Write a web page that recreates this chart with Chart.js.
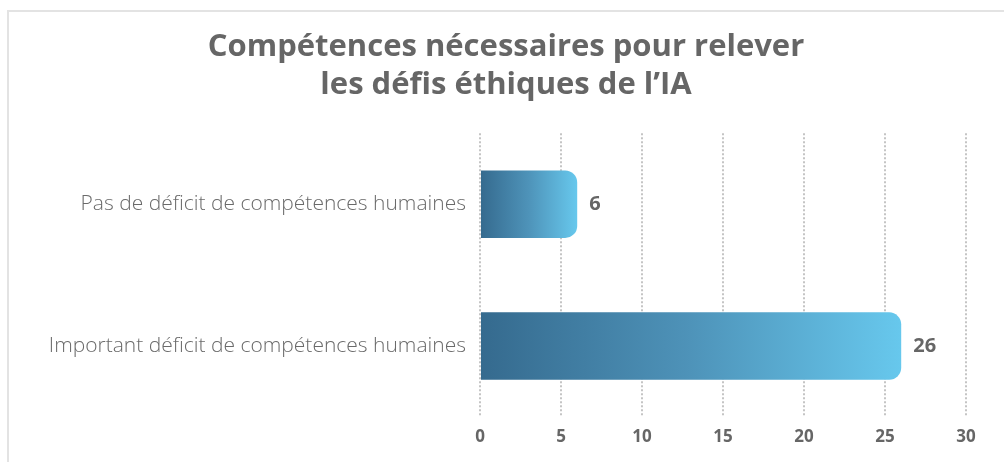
<!DOCTYPE html>
<html>
<head>
<meta charset="utf-8">
<script src="https://cdn.jsdelivr.net/npm/chart.js@4/dist/chart.umd.min.js"></script>
<style>
  html, body { margin: 0; padding: 0; background: #fff; }
  #wrap { position: relative; width: 1004px; height: 462px; }
  #frame { position: absolute; left: 7px; top: 10px; right: -4px; bottom: -4px;
           border-top: 2px solid #e3e3e3; border-left: 2px solid #e3e3e3; pointer-events: none; }
</style>
</head>
<body>
<div id="wrap">
  <canvas id="chart" width="1004" height="462"></canvas>
  <div id="frame"></div>
</div>
<script>
// Data
const categories = ['Pas de déficit de compétences humaines', 'Important déficit de compétences humaines'];
const values = [6, 26];
const xTicks = [0, 5, 10, 15, 20, 25, 30];
const titleLines = ['Compétences nécessaires pour relever', 'les défis éthiques de l\u2019IA'];

const textGrey = '#666666';

// bar gradient goes from the bar's base to its end
const barGradient = (ctx) => {
    const chart = ctx.chart;
    const xs = chart.scales.x;
    if (!xs || !chart.chartArea || ctx.type !== 'data') return '#4d90b5';
    const x0 = xs.getPixelForValue(0);
    const x1 = xs.getPixelForValue(ctx.raw);
    if (!isFinite(x0) || !isFinite(x1) || x1 === x0) return '#4d90b5';
    const g = chart.ctx.createLinearGradient(x0, 0, x1, 0);
    g.addColorStop(0, '#356a8e');
    g.addColorStop(0.5, '#4e93b9');
    g.addColorStop(1, '#67c8ed');
    return g;
};

// value labels at the end of each bar
const valueLabels = {
    id: 'valueLabels',
    afterDatasetsDraw(chart) {
        const { ctx } = chart;
        const meta = chart.getDatasetMeta(0);
        ctx.save();
        ctx.font = 'bold 20px "Open Sans"';
        ctx.fillStyle = textGrey;
        ctx.textBaseline = 'middle';
        ctx.textAlign = 'left';
        meta.data.forEach((bar, i) => {
            ctx.fillText(String(values[i]), bar.x + 12, bar.y);
        });
        ctx.restore();
    }
};

new Chart(document.getElementById('chart'), {
    type: 'bar',
    data: {
        labels: categories,
        datasets: [{
            data: values,
            backgroundColor: barGradient,
            borderRadius: 12,
            borderSkipped: 'start',
            barPercentage: 0.95,
            categoryPercentage: 0.5
        }]
    },
    options: {
        indexAxis: 'y',
        responsive: false,
        animation: false,
        layout: { padding: { top: 10, right: 38, left: 46, bottom: 0 } },
        plugins: {
            legend: { display: false },
            tooltip: { enabled: false },
            title: {
                display: true,
                text: titleLines,
                color: textGrey,
                font: { family: 'Open Sans', size: 31, weight: 'bold', lineHeight: 1.23 },
                padding: { top: 18, bottom: 29 }
            }
        },
        scales: {
            x: {
                min: 0,
                max: 30,
                afterBuildTicks: (s) => { s.ticks = xTicks.map(v => ({ value: v })); },
                afterFit: (s) => { s.height = 45; },
                grid: {
                    color: '#c4c4c4',
                    lineWidth: 2,
                    drawTicks: false
                },
                border: { display: false, dash: [2, 2] },
                ticks: {
                    color: textGrey,
                    padding: 10,
                    font: { family: 'Open Sans', size: 17, weight: 'bold' }
                }
            },
            y: {
                afterFit: (s) => { s.width = 434; },
                grid: { display: false, drawTicks: false },
                border: { display: false },
                ticks: {
                    color: '#6a6a6a',
                    padding: 14,
                    font: { family: 'Open Sans', size: 21, weight: '300' }
                }
            }
        }
    },
    plugins: [valueLabels]
});
</script>
</body>
</html>
